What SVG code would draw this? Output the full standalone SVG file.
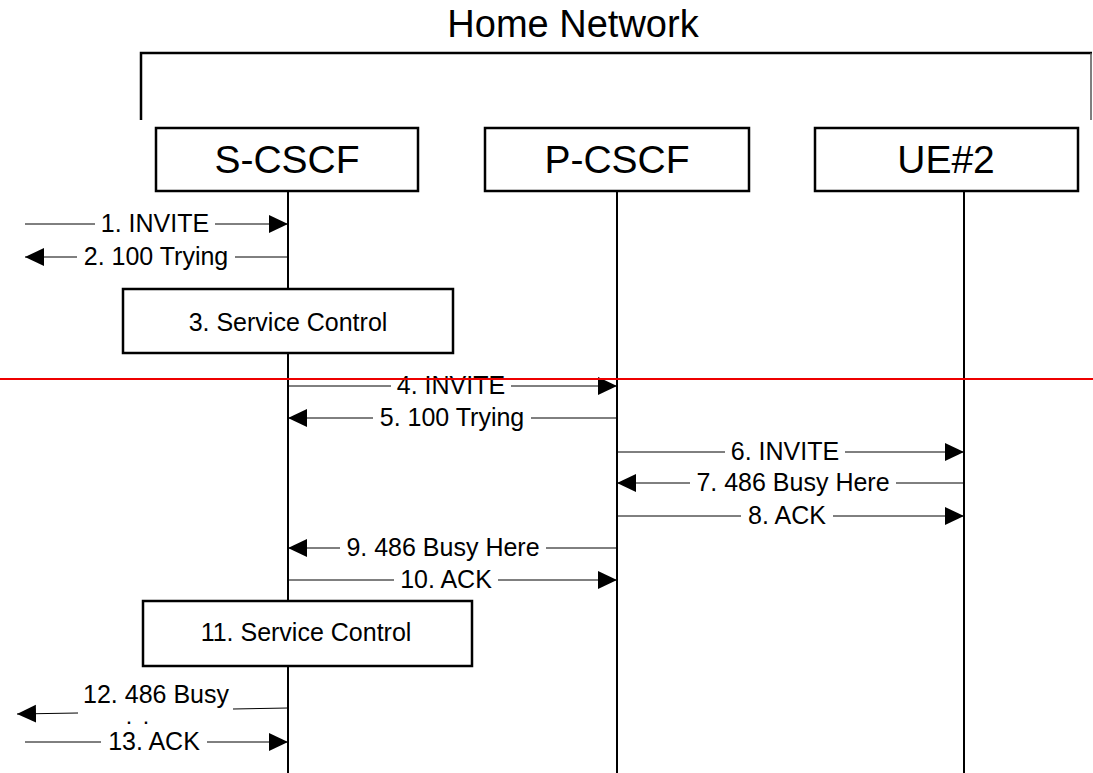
<svg xmlns="http://www.w3.org/2000/svg" width="1093" height="773" viewBox="0 0 1093 773">
<style>
text{font-family:"Liberation Sans",Arial,sans-serif;fill:#000}
.t{font-size:38px;text-anchor:middle}
.n{font-size:39px;text-anchor:middle}
.l{font-size:25px;text-anchor:middle}
.d{font-size:16px;font-weight:bold;text-anchor:middle}
.box{fill:#fff;stroke:#000;stroke-width:2.5}
.life{stroke:#000;stroke-width:2}
.m{stroke:#000;stroke-width:1;fill:none}
</style>
<defs>
<marker id="ah" markerUnits="userSpaceOnUse" markerWidth="20" markerHeight="19" refX="19" refY="9" orient="auto">
<path d="M0,0 L19,9 L0,18 z" fill="#000"/>
</marker>
</defs>
<g id="home-network">
<text class="t" x="573" y="37">Home Network</text>
<path d="M141,120 V53 H1092" fill="none" stroke="#000" stroke-width="2.5"/>
<line x1="1091" y1="53" x2="1091" y2="120" stroke="#555" stroke-width="1.5"/>
</g>
<g id="lifelines">
<line class="life" x1="288" y1="191" x2="288" y2="773"/>
<line class="life" x1="617" y1="191" x2="617" y2="773"/>
<line class="life" x1="964" y1="191" x2="964" y2="773"/>
</g>
<g id="s-cscf"><rect class="box" x="156" y="128" width="262" height="63"/><text class="n" x="287" y="173">S-CSCF</text></g>
<g id="p-cscf"><rect class="box" x="485" y="128" width="264" height="63"/><text class="n" x="617" y="173">P-CSCF</text></g>
<g id="ue2"><rect class="box" x="815" y="128" width="263" height="63"/><text class="n" x="946" y="173">UE#2</text></g>
<g id="service-control-3"><rect class="box" x="123" y="289" width="330" height="64"/><text class="l" x="288" y="331">3. Service Control</text></g>
<g id="service-control-11"><rect class="box" x="143" y="601" width="329" height="65"/><text class="l" x="306" y="641">11. Service Control</text></g>
<g id="connectors">
<line class="m" x1="25" y1="224" x2="95" y2="224"/><line class="m" x1="215" y1="224" x2="288" y2="224" marker-end="url(#ah)"/>
<line class="m" x1="288" y1="257" x2="235" y2="257"/><line class="m" x1="77" y1="257" x2="25" y2="257" marker-end="url(#ah)"/>
<line class="m" x1="288" y1="386" x2="391" y2="386"/><line class="m" x1="511" y1="386" x2="617" y2="386" marker-end="url(#ah)"/>
<line class="m" x1="617" y1="418" x2="531" y2="418"/><line class="m" x1="373" y1="418" x2="288" y2="418" marker-end="url(#ah)"/>
<line class="m" x1="617" y1="452" x2="725" y2="452"/><line class="m" x1="845" y1="452" x2="964" y2="452" marker-end="url(#ah)"/>
<line class="m" x1="964" y1="483" x2="896" y2="483"/><line class="m" x1="690" y1="483" x2="617" y2="483" marker-end="url(#ah)"/>
<line class="m" x1="617" y1="516" x2="741" y2="516"/><line class="m" x1="833" y1="516" x2="964" y2="516" marker-end="url(#ah)"/>
<line class="m" x1="617" y1="548" x2="546" y2="548"/><line class="m" x1="340" y1="548" x2="288" y2="548" marker-end="url(#ah)"/>
<line class="m" x1="288" y1="580" x2="394" y2="580"/><line class="m" x1="498" y1="580" x2="617" y2="580" marker-end="url(#ah)"/>
<line class="m" x1="288" y1="708" x2="233" y2="709"/><line class="m" x1="78" y1="713" x2="17" y2="714" marker-end="url(#ah)"/>
<line class="m" x1="25" y1="742" x2="101" y2="742"/><line class="m" x1="207" y1="742" x2="288" y2="742" marker-end="url(#ah)"/>
</g>
<g id="labels">
<text class="l" x="155" y="232">1. INVITE</text>
<text class="l" x="156" y="265">2. 100 Trying</text>
<text class="l" x="451" y="394">4. INVITE</text>
<text class="l" x="452" y="426">5. 100 Trying</text>
<text class="l" x="785" y="460">6. INVITE</text>
<text class="l" x="793" y="491">7. 486 Busy Here</text>
<text class="l" x="787" y="524">8. ACK</text>
<text class="l" x="443" y="556">9. 486 Busy Here</text>
<text class="l" x="446" y="588">10. ACK</text>
<text class="l" x="156" y="703">12. 486 Busy</text>
<text class="d" x="129" y="724">.</text>
<text class="d" x="146" y="724">.</text>
<text class="l" x="154" y="750">13. ACK</text>
</g>
<line id="red-line" x1="0" y1="379" x2="1093" y2="379" stroke="#e00" stroke-width="2"/>
</svg>
